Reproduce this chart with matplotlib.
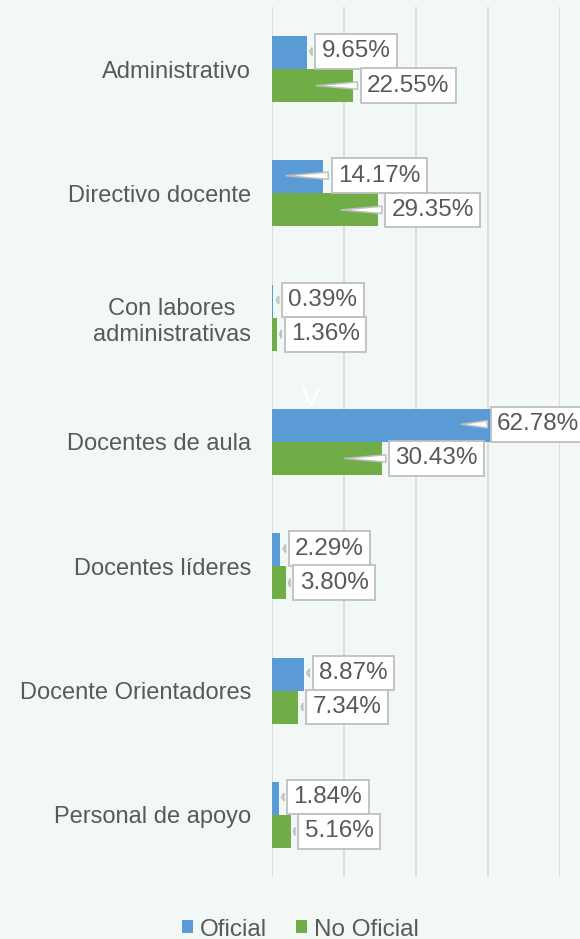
import matplotlib.pyplot as plt
import numpy as np

# === Data ===
categories = ["Administrativo", "Directivo docente", "Con labores\nadministrativas",
              "Docentes de aula", "Docentes líderes", "Docente Orientadores",
              "Personal de apoyo"]
oficial = [9.65, 14.17, 0.39, 62.78, 2.29, 8.87, 1.84]
no_oficial = [22.55, 29.35, 1.36, 30.43, 3.80, 7.34, 5.16]
series_names = ["Oficial", "No Oficial"]

# === Style ===
bg = "#f2f8f6"
blue = "#5b9bd5"
green = "#70ad47"
txt = "#595959"
grid_c = "#d9d9d9"
plt.rcParams["font.family"] = ["Liberation Sans", "DejaVu Sans"]

fig = plt.figure(figsize=(5.8, 9.39), dpi=100, facecolor=bg)
ax = fig.add_axes([272 / 580, 62 / 939, 288 / 580, 870 / 939])
ax.set_facecolor(bg)

y = np.arange(len(categories))
h = 0.265
ax.barh(y - h / 2, oficial, height=h, color=blue, zorder=2, label=series_names[0])
ax.barh(y + h / 2, no_oficial, height=h, color=green, zorder=2, label=series_names[1])

ax.set_xlim(0, 80)
ax.set_ylim(len(categories) - 0.5, -0.5)
ax.set_xticks([0, 20, 40, 60, 80])
ax.set_xticklabels([])
ax.grid(axis="x", color=grid_c, lw=1.3, zorder=0)
ax.tick_params(length=0)
for s in ax.spines.values():
    s.set_visible(False)

ax.set_yticks(y)
ax.set_yticklabels(categories, fontsize=17, color=txt)
ax.tick_params(axis="y", pad=15)
for lab in ax.get_yticklabels():
    lab.set_multialignment("center")

px = 80 / 288  # data units per pixel


def callout(v, yy, off_px=14):
    tip = v if v < 12 else v - 11
    tx = v + off_px * px
    ax.annotate(f"{v:.2f}%", xy=(tip, yy), xytext=(tx, yy), textcoords="data",
                ha="left", va="center", fontsize=17.5, color=txt, zorder=5,
                annotation_clip=False,
                bbox=dict(boxstyle="square,pad=0.26", fc="white", ec="#bfbfbf", lw=1.3),
                arrowprops=dict(arrowstyle="wedge,tail_width=0.3,shrink_factor=0.5",
                                fc="white", ec="#bfbfbf", lw=1.1))


for i, (o, n) in enumerate(zip(oficial, no_oficial)):
    callout(o, i - h / 2 - 0.01, off_px=-1 if o > 60 else 15)
    callout(n, i + h / 2, off_px=14)

ax.text(11, 2.65, "V", color="white", fontsize=20, ha="center", va="center", zorder=1)

fig.legend(loc="center", bbox_to_anchor=(0.518, 0.010), ncol=2, frameon=False,
           fontsize=17.5, labelcolor=txt, handlelength=0.45, handleheight=0.45,
           handletextpad=0.3, columnspacing=1.2)

fig.savefig("out.png", dpi=100, facecolor=bg)
